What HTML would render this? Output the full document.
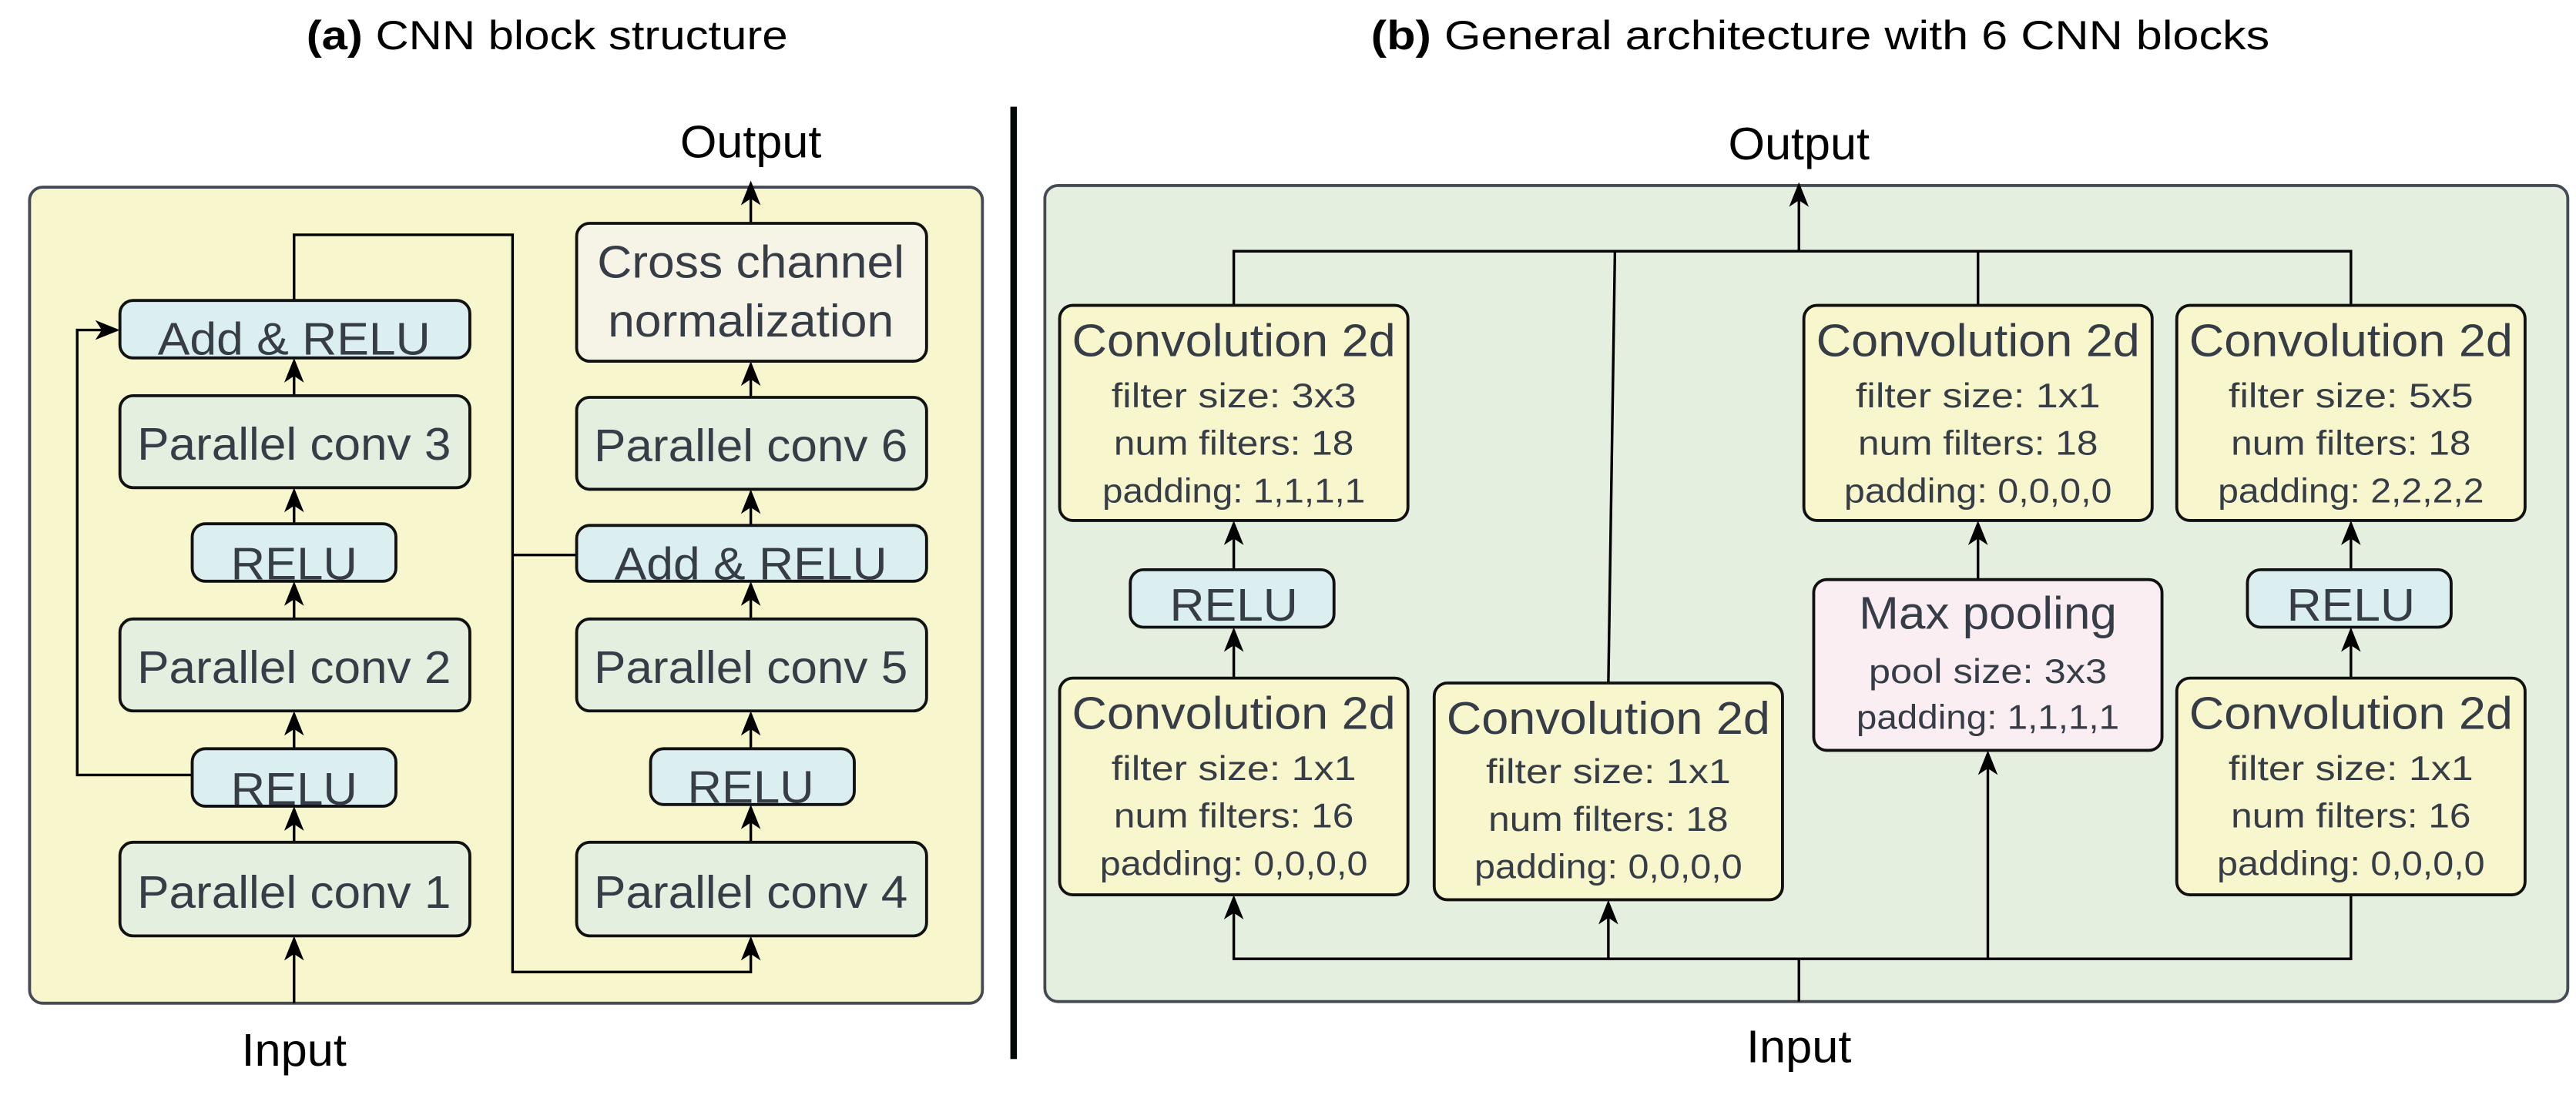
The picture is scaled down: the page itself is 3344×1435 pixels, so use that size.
<!DOCTYPE html>
<html><head><meta charset="utf-8"><style>
html,body{margin:0;padding:0;background:#fff;}
svg{display:block;}
text{font-family:"Liberation Sans",sans-serif;fill:#363d47;text-anchor:middle;}
.t{fill:#000;}
</style></head><body>
<svg width="3344" height="1435" viewBox="0 0 1568 673" preserveAspectRatio="none" xmlns="http://www.w3.org/2000/svg">
<style>
.b{stroke:#111;stroke-width:1.8;}
.l{stroke:#000;stroke-width:1.6;fill:none;}
.ah{fill:#000;}
</style>
<!-- titles -->
<text x="333" y="30" font-size="25" class="t" textLength="293" lengthAdjust="spacingAndGlyphs"><tspan font-weight="bold">(a)</tspan> CNN block structure</text>
<text x="1108" y="30" font-size="25" class="t" textLength="547" lengthAdjust="spacingAndGlyphs"><tspan font-weight="bold">(b)</tspan> General architecture with 6 CNN blocks</text>
<rect x="615" y="65" width="4" height="580" fill="#050808"/>

<!-- LEFT PANEL -->
<rect x="18" y="114" width="580" height="497" rx="8" fill="#f8f6cc" stroke="#444b55" stroke-width="1.8"/>
<g class="l">
<path d="M179 611 V572"/>
<path d="M179 513 V493"/>
<path d="M179 456 V435"/>
<path d="M179 377 V356"/>
<path d="M179 319 V299"/>
<path d="M179 241 V220"/>
<path d="M117 472 H47 V201 H71"/>
<path d="M179 183 V143 H312 V592 H457 V572"/>
<path d="M312 338 H351"/>
<path d="M457 513 V492"/>
<path d="M457 456 V435"/>
<path d="M457 377 V356"/>
<path d="M457 320 V300"/>
<path d="M457 242 V222"/>
<path d="M457 136 V114"/>
</g>
<g class="ah">
<path d="M179 570 l-6 15 l6 -4 l6 4z"/>
<path d="M179 491 l-6 15 l6 -4 l6 4z"/>
<path d="M179 433 l-6 15 l6 -4 l6 4z"/>
<path d="M179 354 l-6 15 l6 -4 l6 4z"/>
<path d="M179 297 l-6 15 l6 -4 l6 4z"/>
<path d="M179 218 l-6 15 l6 -4 l6 4z"/>
<path d="M73 201 l-15 -6 l4 6 l-4 6z"/>
<path d="M457 570 l-6 15 l6 -4 l6 4z"/>
<path d="M457 490 l-6 15 l6 -4 l6 4z"/>
<path d="M457 433 l-6 15 l6 -4 l6 4z"/>
<path d="M457 354 l-6 15 l6 -4 l6 4z"/>
<path d="M457 298 l-6 15 l6 -4 l6 4z"/>
<path d="M457 220 l-6 15 l6 -4 l6 4z"/>
<path d="M457 110 l-6 15 l6 -4 l6 4z"/>
</g>
<g class="b">
<rect x="73" y="183" width="213" height="35" rx="8" fill="#dbeef0"/>
<rect x="73" y="241" width="213" height="56" rx="8" fill="#e4efdf"/>
<rect x="117" y="319" width="124" height="35" rx="8" fill="#dbeef0"/>
<rect x="73" y="377" width="213" height="56" rx="8" fill="#e4efdf"/>
<rect x="117" y="456" width="124" height="35" rx="8" fill="#dbeef0"/>
<rect x="73" y="513" width="213" height="57" rx="8" fill="#e4efdf"/>
<rect x="351" y="136" width="213" height="84" rx="8" fill="#f6f4e6"/>
<rect x="351" y="242" width="213" height="56" rx="8" fill="#e4efdf"/>
<rect x="351" y="320" width="213" height="34" rx="8" fill="#dbeef0"/>
<rect x="351" y="377" width="213" height="56" rx="8" fill="#e4efdf"/>
<rect x="396" y="456" width="124" height="34" rx="8" fill="#dbeef0"/>
<rect x="351" y="513" width="213" height="57" rx="8" fill="#e4efdf"/>
</g>
<g font-size="28" lengthAdjust="spacingAndGlyphs">
<text x="179" y="216" textLength="166" lengthAdjust="spacingAndGlyphs">Add &amp; RELU</text>
<text x="179" y="280" textLength="191" lengthAdjust="spacingAndGlyphs">Parallel conv 3</text>
<text x="179" y="353" textLength="77" lengthAdjust="spacingAndGlyphs">RELU</text>
<text x="179" y="416" textLength="191" lengthAdjust="spacingAndGlyphs">Parallel conv 2</text>
<text x="179" y="490" textLength="77" lengthAdjust="spacingAndGlyphs">RELU</text>
<text x="179" y="553" textLength="191" lengthAdjust="spacingAndGlyphs">Parallel conv 1</text>
<text x="457" y="169" textLength="187" lengthAdjust="spacingAndGlyphs">Cross channel</text>
<text x="457" y="205" textLength="174" lengthAdjust="spacingAndGlyphs">normalization</text>
<text x="457" y="281" textLength="191" lengthAdjust="spacingAndGlyphs">Parallel conv 6</text>
<text x="457" y="353" textLength="166" lengthAdjust="spacingAndGlyphs">Add &amp; RELU</text>
<text x="457" y="416" textLength="191" lengthAdjust="spacingAndGlyphs">Parallel conv 5</text>
<text x="457" y="489" textLength="77" lengthAdjust="spacingAndGlyphs">RELU</text>
<text x="457" y="553" textLength="191" lengthAdjust="spacingAndGlyphs">Parallel conv 4</text>
<text x="457" y="96" class="t" textLength="86" lengthAdjust="spacingAndGlyphs">Output</text>
<text x="179" y="649" class="t" textLength="64" lengthAdjust="spacingAndGlyphs">Input</text>
</g>

<!-- RIGHT PANEL -->
<rect x="636" y="113" width="927" height="497" rx="8" fill="#e5efdf" stroke="#444b55" stroke-width="1.8"/>
<g class="l">
<path d="M751 186 V153 H1431 V186"/>
<path d="M1204 186 V153"/>
<path d="M979 416 L983 153"/>
<path d="M1095 153 V115"/>
<path d="M751 347 V319"/>
<path d="M751 413 V384"/>
<path d="M1204 353 V319"/>
<path d="M1431 347 V319"/>
<path d="M1431 413 V384"/>
<path d="M1095 610 V584"/>
<path d="M751 547 V584 H1431 V545"/>
<path d="M979 550 V584"/>
<path d="M1210 459 V584"/>
</g>
<g class="ah">
<path d="M1095 111 l-6 15 l6 -4 l6 4z"/>
<path d="M751 317 l-6 15 l6 -4 l6 4z"/>
<path d="M751 382 l-6 15 l6 -4 l6 4z"/>
<path d="M1204 317 l-6 15 l6 -4 l6 4z"/>
<path d="M1431 317 l-6 15 l6 -4 l6 4z"/>
<path d="M1431 382 l-6 15 l6 -4 l6 4z"/>
<path d="M751 545 l-6 15 l6 -4 l6 4z"/>
<path d="M979 548 l-6 15 l6 -4 l6 4z"/>
<path d="M1210 457 l-6 15 l6 -4 l6 4z"/>
</g>
<g class="b">
<rect x="645" y="186" width="212" height="131" rx="8" fill="#f8f6cc"/>
<rect x="688" y="347" width="124" height="35" rx="8" fill="#dbeef0"/>
<rect x="645" y="413" width="212" height="132" rx="8" fill="#f8f6cc"/>
<rect x="873" y="416" width="212" height="132" rx="8" fill="#f8f6cc"/>
<rect x="1098" y="186" width="212" height="131" rx="8" fill="#f8f6cc"/>
<rect x="1104" y="353" width="212" height="104" rx="8" fill="#fbeef2"/>
<rect x="1325" y="186" width="212" height="131" rx="8" fill="#f8f6cc"/>
<rect x="1368" y="347" width="124" height="35" rx="8" fill="#dbeef0"/>
<rect x="1325" y="413" width="212" height="132" rx="8" fill="#f8f6cc"/>
</g>
<g font-size="28">
<text x="751" y="217" textLength="197" lengthAdjust="spacingAndGlyphs">Convolution 2d</text>
<text x="751" y="378" textLength="78" lengthAdjust="spacingAndGlyphs">RELU</text>
<text x="751" y="444" textLength="197" lengthAdjust="spacingAndGlyphs">Convolution 2d</text>
<text x="979" y="447" textLength="197" lengthAdjust="spacingAndGlyphs">Convolution 2d</text>
<text x="1204" y="217" textLength="197" lengthAdjust="spacingAndGlyphs">Convolution 2d</text>
<text x="1210" y="383" textLength="157" lengthAdjust="spacingAndGlyphs">Max pooling</text>
<text x="1431" y="217" textLength="197" lengthAdjust="spacingAndGlyphs">Convolution 2d</text>
<text x="1431" y="378" textLength="78" lengthAdjust="spacingAndGlyphs">RELU</text>
<text x="1431" y="444" textLength="197" lengthAdjust="spacingAndGlyphs">Convolution 2d</text>
<text x="1095" y="97" class="t" textLength="86" lengthAdjust="spacingAndGlyphs">Output</text>
<text x="1095" y="647" class="t" textLength="64" lengthAdjust="spacingAndGlyphs">Input</text>
</g>
<g font-size="21">
<text x="751" y="248" textLength="149" lengthAdjust="spacingAndGlyphs">filter size: 3x3</text>
<text x="751" y="277" textLength="146" lengthAdjust="spacingAndGlyphs">num filters: 18</text>
<text x="751" y="306" textLength="160" lengthAdjust="spacingAndGlyphs">padding: 1,1,1,1</text>
<text x="751" y="475" textLength="149" lengthAdjust="spacingAndGlyphs">filter size: 1x1</text>
<text x="751" y="504" textLength="146" lengthAdjust="spacingAndGlyphs">num filters: 16</text>
<text x="751" y="533" textLength="163" lengthAdjust="spacingAndGlyphs">padding: 0,0,0,0</text>
<text x="979" y="477" textLength="149" lengthAdjust="spacingAndGlyphs">filter size: 1x1</text>
<text x="979" y="506" textLength="146" lengthAdjust="spacingAndGlyphs">num filters: 18</text>
<text x="979" y="535" textLength="163" lengthAdjust="spacingAndGlyphs">padding: 0,0,0,0</text>
<text x="1204" y="248" textLength="149" lengthAdjust="spacingAndGlyphs">filter size: 1x1</text>
<text x="1204" y="277" textLength="146" lengthAdjust="spacingAndGlyphs">num filters: 18</text>
<text x="1204" y="306" textLength="163" lengthAdjust="spacingAndGlyphs">padding: 0,0,0,0</text>
<text x="1210" y="416" textLength="145" lengthAdjust="spacingAndGlyphs">pool size: 3x3</text>
<text x="1210" y="444" textLength="160" lengthAdjust="spacingAndGlyphs">padding: 1,1,1,1</text>
<text x="1431" y="248" textLength="149" lengthAdjust="spacingAndGlyphs">filter size: 5x5</text>
<text x="1431" y="277" textLength="146" lengthAdjust="spacingAndGlyphs">num filters: 18</text>
<text x="1431" y="306" textLength="162" lengthAdjust="spacingAndGlyphs">padding: 2,2,2,2</text>
<text x="1431" y="475" textLength="149" lengthAdjust="spacingAndGlyphs">filter size: 1x1</text>
<text x="1431" y="504" textLength="146" lengthAdjust="spacingAndGlyphs">num filters: 16</text>
<text x="1431" y="533" textLength="163" lengthAdjust="spacingAndGlyphs">padding: 0,0,0,0</text>
</g>
</svg>
</body></html>
